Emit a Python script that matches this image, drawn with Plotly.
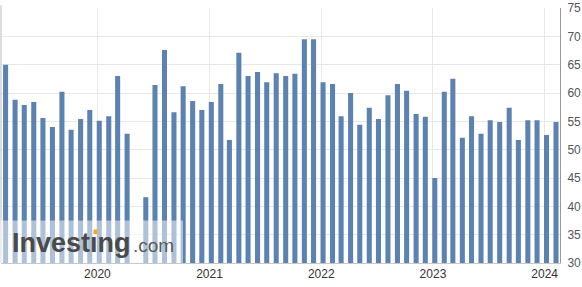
import plotly.graph_objects as go
import pandas as pd

# Monthly release dates (approx. 7th of each month), Mar 2019 - Feb 2024
dates = pd.date_range("2019-03-01", periods=60, freq="MS") + pd.Timedelta(days=6)
values = [
    65.0, 58.8, 57.9, 58.4, 55.6, 54.0, 60.2, 53.5, 55.4, 57.0,
    55.1, 55.9, 63.0, 52.8, 26.0, 41.6, 61.4, 67.6, 56.6, 61.2,
    58.6, 57.0, 58.4, 61.6, 51.7, 67.1, 63.0, 63.7, 61.9, 63.5,
    63.0, 63.4, 69.5, 69.5, 61.9, 61.6, 55.9, 60.0, 54.4, 57.4,
    55.4, 59.6, 61.6, 60.4, 56.3, 55.8, 45.0, 60.2, 62.5, 52.1,
    55.9, 52.8, 55.2, 54.9, 57.4, 51.7, 55.2, 55.2, 52.6, 54.9,
]
year_ticks = ["2020-01-01", "2021-01-01", "2022-01-01", "2023-01-01", "2024-01-01"]
year_labels = ["2020", "2021", "2022", "2023", "2024"]
y_ticks = [30, 35, 40, 45, 50, 55, 60, 65, 70, 75]

W, H = 582, 287
ML, MR, MT, MB = 1, 22, 8, 24
PW, PH = W - ML - MR, H - MT - MB


def px(x):
    return (x - ML) / PW


def py(y):
    return (H - MB - y) / PH


DAY = 86400000
fig = go.Figure()
fig.add_trace(go.Bar(
    x=dates, y=values, width=[16.5 * DAY] * len(values),
    marker=dict(color="#5b82b0", line=dict(width=0)),
    hoverinfo="x+y",
))

font = "Liberation Sans, Arial, sans-serif"
fig.update_layout(
    width=W, height=H,
    margin=dict(l=ML, r=MR, t=MT, b=MB),
    paper_bgcolor="white", plot_bgcolor="white",
    showlegend=False,
    xaxis=dict(
        type="date", range=["2019-02-20", "2024-02-20"],
        tickvals=year_ticks, ticktext=year_labels,
        showgrid=True, gridcolor="#e8e8e8", gridwidth=1,
        showline=True, linecolor="#c8c8c8", linewidth=1,
        ticks="", tickfont=dict(family=font, size=12, color="#333"),
        zeroline=False, fixedrange=True,
    ),
    yaxis=dict(
        side="right", range=[30, 75], tickvals=y_ticks,
        showgrid=True, gridcolor="#e8e8e8", gridwidth=1,
        showline=True, linecolor="#999", linewidth=1,
        ticks="", ticklabelstandoff=4,
        tickfont=dict(family=font, size=12, color="#555"),
        zeroline=False, fixedrange=True,
    ),
    shapes=[
        dict(type="line", xref="paper", yref="paper", x0=0, x1=0, y0=0, y1=1.01,
             line=dict(color="#bbb", width=1)),
        dict(type="rect", xref="paper", yref="paper", x0=-0.01, x1=px(183),
             y0=0, y1=py(220.5), fillcolor="white", opacity=0.5,
             line=dict(width=0), layer="above"),
    ],
    annotations=[
        dict(text="<b>Investıng</b>", xref="paper", yref="paper",
             x=px(10), y=py(253), xanchor="left", yanchor="bottom", yshift=-7,
             showarrow=False, font=dict(family=font, size=27, color="#4a4a4a")),
        dict(text=".com", xref="paper", yref="paper",
             x=px(131), y=py(253), xanchor="left", yanchor="bottom", yshift=-5,
             showarrow=False, font=dict(family=font, size=19, color="#5a5a5a")),
    ],
)
fig.add_shape(type="rect", xref="paper", yref="paper",
              x0=px(93.5), x1=px(97.5), y0=py(234), y1=py(229.5),
              fillcolor="#f5a623", line=dict(width=0), layer="above")

fig.write_html("out.html")
